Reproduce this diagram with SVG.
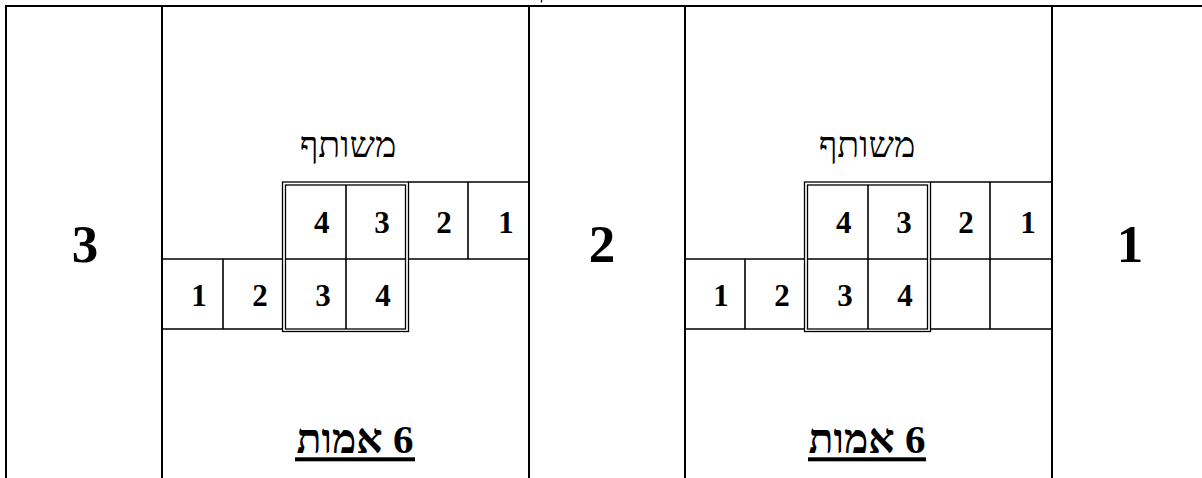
<svg xmlns="http://www.w3.org/2000/svg" width="1202" height="478" viewBox="0 0 1202 478">
<style>
.frame{stroke:#000;stroke-width:2;fill:none}
.ln{stroke:#000;stroke-width:1.6;fill:none}
.dbl{stroke:#000;stroke-width:1.3;fill:none}
.num{font-family:"Liberation Serif","DejaVu Serif",serif;font-weight:bold;font-size:31px;text-anchor:middle;fill:#000}
.big{font-family:"Liberation Serif","DejaVu Serif",serif;font-weight:bold;font-size:53px;text-anchor:middle;fill:#000}
.heb{font-family:"Liberation Serif","DejaVu Sans",serif;font-size:36px;text-anchor:middle;fill:#000}
.hebb{font-family:"Liberation Serif","DejaVu Sans",serif;font-size:41px;font-weight:bold;text-anchor:middle;fill:#000}
</style>
<defs>
<g id="table">
<line class="ln" x1="408.5" y1="182" x2="529" y2="182"/>
<line class="ln" x1="468" y1="182" x2="468" y2="259"/>
<line class="ln" x1="162" y1="259" x2="282.5" y2="259"/>
<line class="ln" x1="285.5" y1="259" x2="405.5" y2="259"/>
<line class="ln" x1="408.5" y1="259" x2="529" y2="259"/>
<line class="ln" x1="162" y1="329" x2="282.5" y2="329"/>
<line class="ln" x1="223" y1="259" x2="223" y2="329"/>
<line class="ln" x1="346" y1="185" x2="346" y2="329"/>
<rect class="dbl" x="282.5" y="182" width="126" height="149.5"/>
<rect class="dbl" x="285.5" y="185" width="120" height="144"/>
<text class="num" x="321.7" y="233">4</text>
<text class="num" x="382" y="233">3</text>
<text class="num" x="444" y="233">2</text>
<text class="num" x="506" y="233">1</text>
<text class="num" x="199" y="306">1</text>
<text class="num" x="260" y="306">2</text>
<text class="num" x="323" y="306">3</text>
<text class="num" x="383" y="306">4</text>
</g>
</defs>
<rect width="1202" height="478" fill="#fff"/>
<g id="frame">
<line class="frame" x1="5" y1="6" x2="1202" y2="6"/>
<line class="frame" x1="6" y1="5" x2="6" y2="478"/>
<line class="frame" x1="162" y1="5" x2="162" y2="478"/>
<line class="frame" x1="529" y1="5" x2="529" y2="478"/>
<line class="frame" x1="685" y1="5" x2="685" y2="478"/>
<line class="frame" x1="1052" y1="5" x2="1052" y2="478"/>
<line stroke="#000" stroke-width="1.2" x1="541.7" y1="0" x2="541.3" y2="2.5"/>
</g>
<g id="col-3">
<text class="big" x="85" y="262">3</text>
</g>
<g id="panel-left">
<text class="heb" x="348" y="157" direction="rtl">משותף</text>
<use href="#table"/>
<text class="hebb" x="355" y="453" direction="rtl">6 אמות</text>
<rect x="295" y="457.3" width="120" height="4" fill="#000"/>
</g>
<g id="col-2">
<text class="big" x="602" y="262">2</text>
</g>
<g id="panel-right">
<text class="heb" x="867" y="157" direction="rtl">משותף</text>
<use href="#table" transform="translate(522,0)"/>
<line class="ln" x1="930.5" y1="329" x2="1051" y2="329"/>
<line class="ln" x1="990" y1="259" x2="990" y2="329"/>
<text class="hebb" x="867" y="453" direction="rtl">6 אמות</text>
<rect x="808" y="457.3" width="118" height="4" fill="#000"/>
</g>
<g id="col-1">
<text class="big" x="1130" y="262">1</text>
</g>
<g id="connectors"/>
</svg>
